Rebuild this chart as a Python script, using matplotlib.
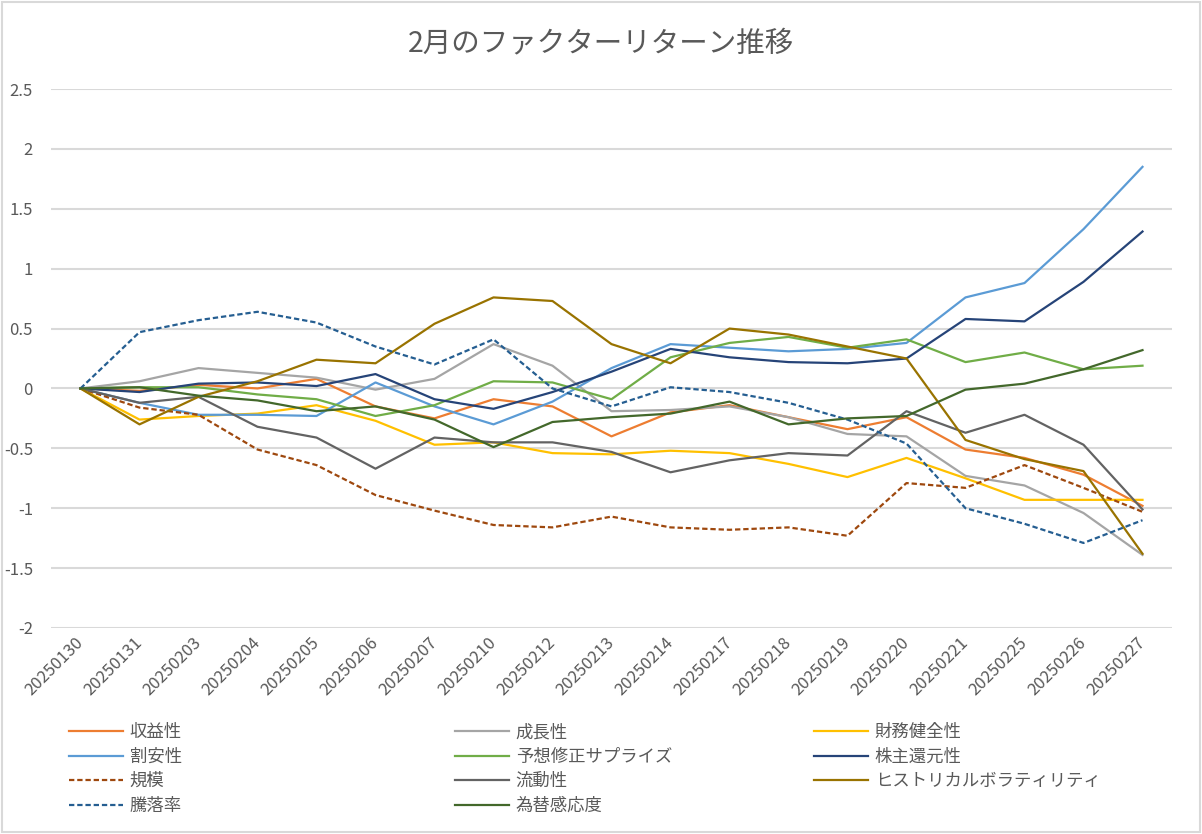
import numpy as np
import matplotlib
matplotlib.use('Agg')
import matplotlib.pyplot as plt
from matplotlib.patches import Rectangle

plt.rcParams['font.family'] = ['Noto Sans CJK JP', 'DejaVu Sans']

# Dates (category axis)
dates = ['20250130', '20250131', '20250203', '20250204', '20250205', '20250206',
         '20250207', '20250210', '20250212', '20250213', '20250214', '20250217',
         '20250218', '20250219', '20250220', '20250221', '20250225', '20250226',
         '20250227']

# Factor returns
shueki = [0, -0.02, 0.03, 0.0, 0.08, -0.15, -0.25, -0.09, -0.15, -0.40, -0.20, -0.14,
          -0.24, -0.34, -0.24, -0.51, -0.58, -0.72, -0.98]
seicho = [0, 0.06, 0.17, 0.13, 0.09, -0.01, 0.08, 0.37, 0.19, -0.19, -0.18, -0.15,
          -0.24, -0.38, -0.40, -0.73, -0.81, -1.04, -1.39]
zaimu = [0, -0.26, -0.23, -0.21, -0.14, -0.27, -0.47, -0.45, -0.54, -0.55, -0.52, -0.54,
         -0.63, -0.74, -0.58, -0.75, -0.93, -0.93, -0.93]
wariyasu = [0, -0.12, -0.22, -0.22, -0.23, 0.05, -0.15, -0.30, -0.11, 0.17, 0.37, 0.34,
            0.31, 0.33, 0.38, 0.76, 0.88, 1.33, 1.85]
yoso = [0, 0.01, 0.01, -0.05, -0.09, -0.23, -0.14, 0.06, 0.05, -0.09, 0.26, 0.38,
        0.43, 0.34, 0.41, 0.22, 0.30, 0.16, 0.19]
kabunushi = [0, -0.03, 0.04, 0.05, 0.02, 0.12, -0.09, -0.17, -0.03, 0.14, 0.33, 0.26,
             0.22, 0.21, 0.25, 0.58, 0.56, 0.89, 1.31]
kibo = [0, -0.16, -0.22, -0.51, -0.64, -0.89, -1.02, -1.14, -1.16, -1.07, -1.16, -1.18,
        -1.16, -1.23, -0.79, -0.83, -0.64, -0.83, -1.03]
ryudo = [0, -0.12, -0.07, -0.32, -0.41, -0.67, -0.41, -0.45, -0.45, -0.53, -0.70, -0.60,
         -0.54, -0.56, -0.19, -0.37, -0.22, -0.47, -1.01]
hv = [0, -0.30, -0.07, 0.06, 0.24, 0.21, 0.54, 0.76, 0.73, 0.37, 0.21, 0.50,
      0.45, 0.35, 0.25, -0.43, -0.59, -0.69, -1.38]
toraku = [0, 0.47, 0.57, 0.64, 0.55, 0.35, 0.20, 0.41, 0.0, -0.15, 0.01, -0.03,
          -0.12, -0.26, -0.46, -1.0, -1.13, -1.29, -1.10]
kawase = [0, 0.01, -0.06, -0.10, -0.19, -0.15, -0.26, -0.49, -0.28, -0.24, -0.21, -0.11,
          -0.30, -0.25, -0.23, -0.01, 0.04, 0.16, 0.32]

names = ['収益性', '成長性', '財務健全性', '割安性', '予想修正サプライズ', '株主還元性',
         '規模', '流動性', 'ヒストリカルボラティリティ', '騰落率', '為替感応度']
series = [shueki, seicho, zaimu, wariyasu, yoso, kabunushi, kibo, ryudo, hv, toraku, kawase]
colors = ['#ED7D31', '#A5A5A5', '#FFC000', '#5B9BD5', '#70AD47', '#264478',
          '#9E480E', '#636363', '#997300', '#255E91', '#43682B']
dashed = [False, False, False, False, False, False, True, False, False, True, False]

text_color = '#595959'
grid_color = '#D9D9D9'

fig = plt.figure(figsize=(12.02, 8.34), dpi=100)
ax = fig.add_axes([51 / 1202, 1 - 628 / 834, (1172 - 51) / 1202, (628 - 89) / 834])

x = np.arange(len(dates))
handles = []
for vals, name, c, d in zip(series, names, colors, dashed):
    if d:
        ln, = ax.plot(x, vals, color=c, lw=1.6, dashes=(2.4, 1.3), label=name)
    else:
        ln, = ax.plot(x, vals, color=c, lw=1.6, label=name)
    handles.append(ln)

ax.set_xlim(-0.5, len(dates) - 0.5)
ax.set_ylim(-2, 2.5)
ax.set_yticks(np.arange(-2, 2.51, 0.5))
ax.set_yticklabels(['-2', '-1.5', '-1', '-0.5', '0', '0.5', '1', '1.5', '2', '2.5'])
ax.set_xticks(x)
ax.set_xticklabels(dates, rotation=45, ha='right', va='center', rotation_mode='anchor')
ax.tick_params(axis='both', length=0, colors=text_color, labelsize=12)
ax.tick_params(axis='y', pad=13)
ax.tick_params(axis='x', pad=9)
ax.grid(axis='y', color=grid_color, lw=1.5)
ax.set_axisbelow(True)
for s in ax.spines.values():
    s.set_visible(False)

fig.text(0.5, 1 - 43 / 834, '2月のファクターリターン推移', ha='center', va='center',
         fontsize=20.5, color=text_color)

# legend in three columns, filled row by row like Excel
col_x = [69 / 1202, 455 / 1202, 814 / 1202]
for ci in range(3):
    idx = list(range(ci, len(names), 3))
    leg = fig.legend([handles[i] for i in idx], [names[i] for i in idx],
                     loc='upper left', bbox_to_anchor=(col_x[ci], 1 - 723 / 834),
                     frameon=False, fontsize=12.5, handlelength=3.1, handletextpad=0.4,
                     labelspacing=0.38, borderaxespad=0, borderpad=0)
    for t in leg.get_texts():
        t.set_color(text_color)

fig.patches.append(Rectangle((0.002, 0.002), 0.996, 0.996, transform=fig.transFigure,
                             fill=False, edgecolor=grid_color, lw=1.5))

fig.savefig('out.png', dpi=100)
